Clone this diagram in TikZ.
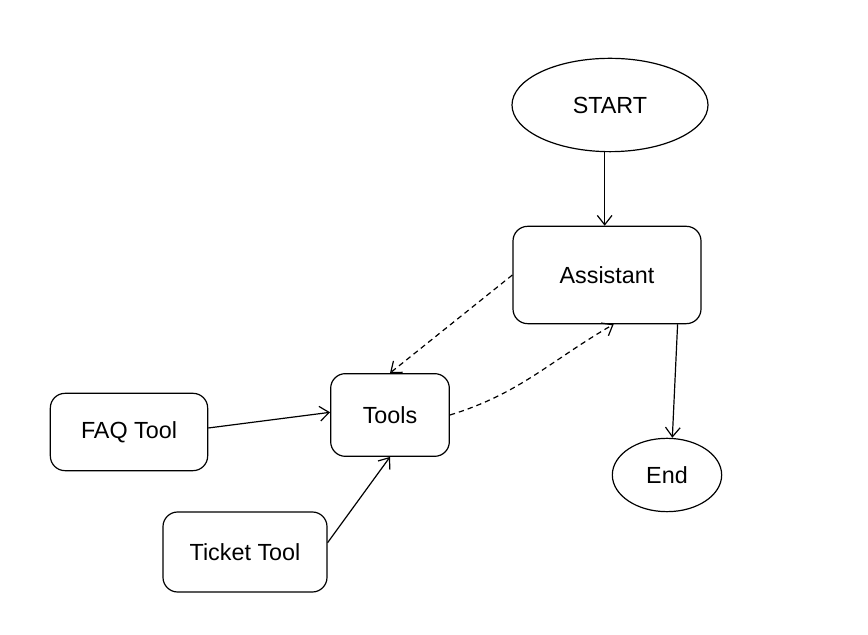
\documentclass[tikz,border=0pt]{standalone}
\usepackage{fontspec}
\setmainfont{Liberation Sans}
\usepackage{tikz}
\usetikzlibrary{positioning}
\usetikzlibrary{calc}
\usetikzlibrary{arrows.meta}
\usetikzlibrary{shapes}

\begin{document}
\begin{tikzpicture} [
    x=0.75pt, y=0.75pt,              % one unit is one pixel of the sketch
    ]
% -------------------------------------------------
\tikzset{
  base/.style={draw, line width=0.9pt, align=center, inner sep=0pt, font=\fontsize{17.5}{20}\selectfont},
  rect/.style={base, rectangle, rounded corners=11pt},
  oval/.style={base, ellipse},
  line/.style={draw, line width=0.9pt, -{Straight Barb[length=7pt,width=11pt]}},
  dots/.style={line, dash pattern=on 4pt off 3pt}
}

    \useasboundingbox (0,0) rectangle (868,635);

    \node [oval, minimum width=147pt, minimum height=70pt] (start) at (610,530) {START};
    \node [rect, minimum width=141pt, minimum height=73pt] (asst) at (607,360) {Assistant};
    \node [oval, minimum width=82pt, minimum height=55pt] (end) at (667,160) {End};

    \node [rect, minimum width=89pt, minimum height=62pt] (tools) at (390,220) {Tools};
    \node [rect, minimum width=118pt, minimum height=58pt] (faq) at (129,203) {FAQ Tool};
    \node [rect, minimum width=123pt, minimum height=60pt] (ticket) at (245,83) {Ticket Tool};

    \path [line] ([xshift=-4pt]start.south) -- ([xshift=-4pt]start.south |- asst.north);
    \path [line] ([xshift=-18pt]asst.south east) -- ([xshift=4pt]end.north);

    \path [dots] (asst.west) -- (tools.north);
    \path [dots] (tools.east) to[out=17, in=210] ([xshift=5pt]asst.south);

    \path [line] ([yshift=3pt]faq.east) -- ([yshift=2pt]tools.west);
    \path [line] ([yshift=7pt]ticket.east) -- (tools.south);

\end{tikzpicture}
\end{document}
